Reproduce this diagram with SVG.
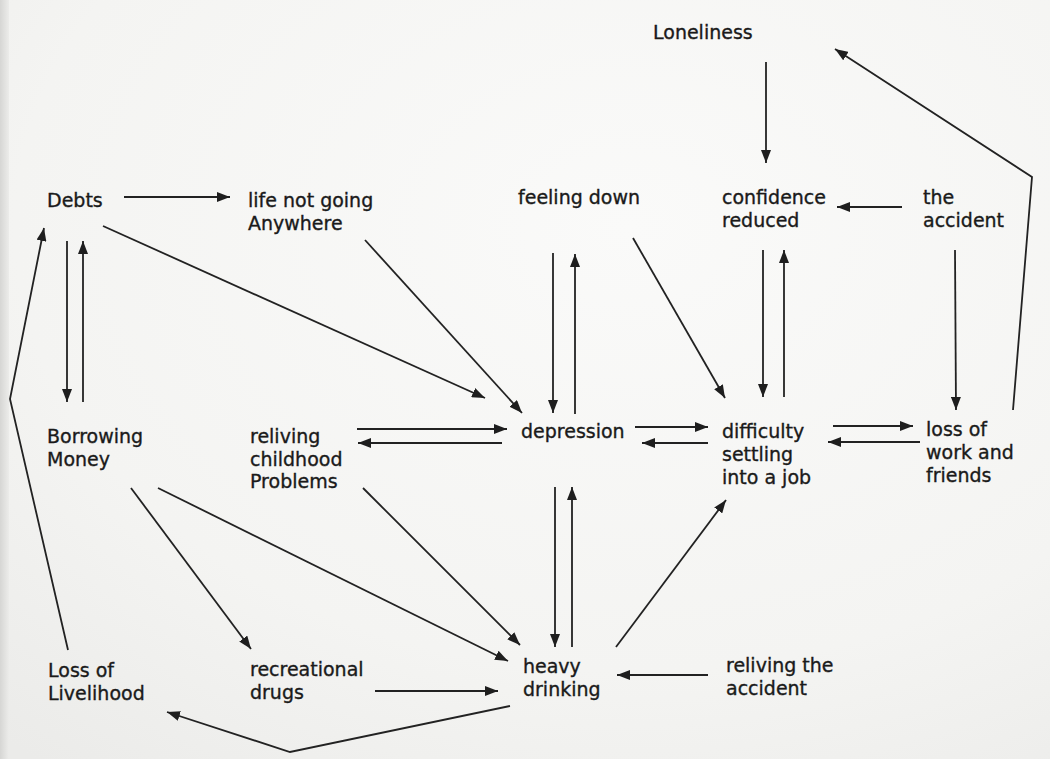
<svg xmlns="http://www.w3.org/2000/svg" width="1050" height="759" viewBox="0 0 1050 759">
<defs>
<radialGradient id="paper" cx="0.6" cy="0.3" r="0.9">
<stop offset="0" stop-color="#fafaf9"/>
<stop offset="0.65" stop-color="#f4f4f2"/>
<stop offset="1" stop-color="#ebebe9"/>
</radialGradient>
<linearGradient id="edge" x1="0" y1="0" x2="1" y2="0">
<stop offset="0" stop-color="#d6d6d4"/>
<stop offset="1" stop-color="#ececea"/>
</linearGradient>
<marker id="ah" viewBox="0 0 13 10" refX="13" refY="5" markerWidth="13" markerHeight="10" markerUnits="userSpaceOnUse" orient="auto">
<path d="M0,0 L13,5 L0,10 z" fill="#1e1e1e"/>
</marker>
</defs>
<style>
text{font-family:"DejaVu Sans",Verdana,sans-serif;font-size:19px;fill:#1a1a1a;stroke:#1a1a1a;stroke-width:0.35px}
.c line,.c polyline{stroke:#222;stroke-width:1.8;fill:none}
.a{marker-end:url(#ah)}
</style>
<rect width="1050" height="759" fill="url(#paper)"/>
<rect width="9" height="759" fill="url(#edge)"/>

<g class="c" id="connectors">
<line class="a" x1="766" y1="62" x2="766" y2="163"/>
<polyline class="a" points="1013,410 1032,177 835,49"/>
<line class="a" x1="902" y1="207" x2="837" y2="207"/>
<line class="a" x1="763" y1="250" x2="763" y2="397"/>
<line class="a" x1="784" y1="397" x2="784" y2="250"/>
<line class="a" x1="955" y1="250" x2="956" y2="410"/>
<line class="a" x1="833" y1="426" x2="913" y2="426"/>
<line class="a" x1="920" y1="442" x2="828" y2="442"/>
<line class="a" x1="633" y1="238" x2="725" y2="398"/>
<line class="a" x1="553" y1="253" x2="553" y2="413"/>
<line class="a" x1="575" y1="414" x2="575" y2="254"/>
<line class="a" x1="365" y1="240" x2="522" y2="413"/>
<line class="a" x1="103" y1="226" x2="485" y2="398"/>
<line class="a" x1="124" y1="197" x2="230" y2="197"/>
<line class="a" x1="67" y1="241" x2="67" y2="402"/>
<line class="a" x1="83" y1="402" x2="83" y2="241"/>
<polyline class="a" points="68,650 10,399 44,228"/>
<line class="a" x1="635" y1="427" x2="708" y2="427"/>
<line class="a" x1="708" y1="443" x2="642" y2="443"/>
<line class="a" x1="357" y1="429" x2="507" y2="429"/>
<line class="a" x1="502" y1="443" x2="358" y2="443"/>
<line class="a" x1="555" y1="487" x2="555" y2="647"/>
<line class="a" x1="572" y1="647" x2="572" y2="487"/>
<line class="a" x1="363" y1="488" x2="520" y2="645"/>
<line class="a" x1="158" y1="488" x2="508" y2="661"/>
<line class="a" x1="131" y1="488" x2="251" y2="649"/>
<line class="a" x1="375" y1="691" x2="498" y2="691"/>
<polyline class="a" points="510,706 290,752 167,712"/>
<line class="a" x1="616" y1="647" x2="726" y2="500"/>
<line class="a" x1="708" y1="675" x2="617" y2="675"/>
</g>

<g id="loneliness"><text x="653" y="39">Loneliness</text></g>
<g id="debts"><text x="47" y="207">Debts</text></g>
<g id="life-not-going"><text x="248" y="207">life not going</text><text x="248" y="230">Anywhere</text></g>
<g id="feeling-down"><text x="518" y="204">feeling down</text></g>
<g id="confidence-reduced"><text x="722" y="204">confidence</text><text x="722" y="227">reduced</text></g>
<g id="the-accident"><text x="923" y="204">the</text><text x="923" y="227">accident</text></g>
<g id="borrowing-money"><text x="47" y="443">Borrowing</text><text x="47" y="466">Money</text></g>
<g id="reliving-childhood"><text x="250" y="443">reliving</text><text x="250" y="466">childhood</text><text x="250" y="488">Problems</text></g>
<g id="depression"><text x="521" y="438">depression</text></g>
<g id="difficulty"><text x="722" y="438">difficulty</text><text x="722" y="461">settling</text><text x="722" y="484">into a job</text></g>
<g id="loss-of-work"><text x="926" y="436">loss of</text><text x="926" y="459">work and</text><text x="926" y="482">friends</text></g>
<g id="loss-of-livelihood"><text x="48" y="677">Loss of</text><text x="48" y="700">Livelihood</text></g>
<g id="recreational-drugs"><text x="250" y="676">recreational</text><text x="250" y="699">drugs</text></g>
<g id="heavy-drinking"><text x="523" y="673">heavy</text><text x="523" y="696">drinking</text></g>
<g id="reliving-accident"><text x="726" y="672">reliving the</text><text x="726" y="695">accident</text></g>
</svg>
